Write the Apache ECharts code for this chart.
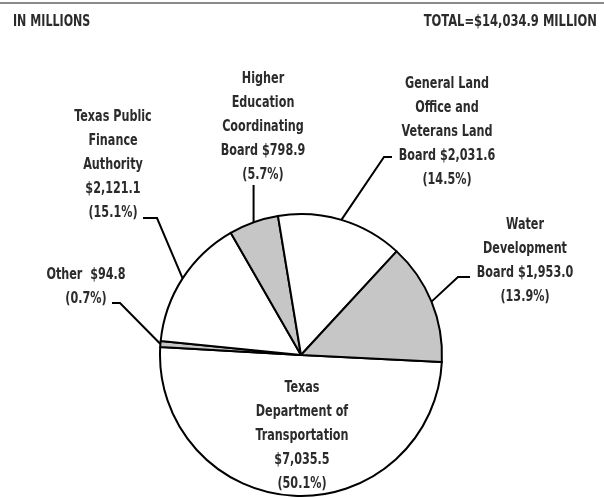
<!DOCTYPE html>
<html>
<head>
<meta charset="utf-8">
<script src="https://cdn.jsdelivr.net/npm/echarts@6/dist/echarts.min.js"></script>
<style>html,body{margin:0;padding:0;background:#fff}#chart{width:604px;height:498px}</style>
</head>
<body>
<div id="chart"></div>
<script>
// ---- data ----
const categories = [
  "Texas\nDepartment of\nTransportation",
  "Other ",
  "Texas Public\nFinance\nAuthority",
  "Higher\nEducation\nCoordinating\nBoard",
  "General Land\nOffice and\nVeterans Land\nBoard",
  "Water\nDevelopment\nBoard"
];
const values = [7035.5, 94.8, 2121.1, 798.9, 2031.6, 1953.0];
const percents = ["50.1%", "0.7%", "15.1%", "5.7%", "14.5%", "13.9%"];
const headerLeft = "IN MILLIONS";
const headerRight = "TOTAL=$14,034.9 MILLION";

// ---- styling / layout (not data) ----
const fills = ["#ffffff", "#c6c6c6", "#ffffff", "#c6c6c6", "#ffffff", "#c6c6c6"];
const labelLayoutCfg = [
  {x: 302, y: 376, line: null},
  {x: 86,  y: 263, elbow: [120, 303], end: 112},
  {x: 113, y: 105, elbow: [157, 218], end: 143},
  {x: 263, y: 67,  vertical: 185},
  {x: 447, y: 72,  elbow: [384, 157], end: 392},
  {x: 525, y: 213, elbow: [458, 277], end: 470}
];
const LABEL_SCALE_X = 0.83;
const FONT = "'DejaVu Sans Condensed', sans-serif";

function fmtMoney(v) {
  return "$" + v.toLocaleString("en-US", {minimumFractionDigits: 1, maximumFractionDigits: 1});
}
function labelText(i) {
  const name = categories[i];
  const money = fmtMoney(values[i]);
  if (i === 1) return name + " " + money + "\n(" + percents[i] + ")";
  if (/Board$/.test(name)) return name + " " + money + "\n(" + percents[i] + ")";
  return name + "\n" + money + "\n(" + percents[i] + ")";
}

// slice labels as condensed text elements (no narrow font cut is installed)
const labelGraphics = values.map((v, i) => ({
  type: 'text',
  x: labelLayoutCfg[i].x,
  y: labelLayoutCfg[i].y,
  scaleX: LABEL_SCALE_X,
  silent: true,
  z: 10,
  style: {
    text: labelText(i),
    fontFamily: FONT, fontSize: 15, fontWeight: 'bold',
    fill: '#2b2b2b', align: 'center', verticalAlign: 'top', lineHeight: 24
  }
}));

const chart = echarts.init(document.getElementById('chart'), null, {renderer: 'canvas'});
chart.setOption({
  animation: false,
  backgroundColor: '#ffffff',
  graphic: [
    {type: 'line', shape: {x1: 0, y1: 3, x2: 604, y2: 3},
     style: {stroke: '#8a8a8a', lineWidth: 2}, silent: true},
    {type: 'text', x: 13, y: 14, scaleX: 0.77, silent: true,
     style: {text: headerLeft, fontFamily: FONT, fontSize: 16, fontWeight: 'bold',
             fill: '#2b2b2b', align: 'left', verticalAlign: 'top'}},
    {type: 'text', x: 597, y: 14, scaleX: 0.80, silent: true,
     style: {text: headerRight, fontFamily: FONT, fontSize: 16, fontWeight: 'bold',
             fill: '#2b2b2b', align: 'right', verticalAlign: 'top'}}
  ].concat(labelGraphics),
  series: [{
    type: 'pie',
    center: [301, 355],
    radius: 141,
    startAngle: -2.8,
    clockwise: true,
    avoidLabelOverlap: false,
    silent: true,
    emphasis: {disabled: true},
    itemStyle: {borderColor: '#000', borderWidth: 2},
    label: {
      show: true,
      position: 'outside',
      fontSize: 10,
      formatter: () => ' '
    },
    labelLine: {show: true, length: 10, length2: 10, lineStyle: {color: '#000', width: 2}},
    labelLayout: function (params) {
      const cfg = labelLayoutCfg[params.dataIndex];
      const res = {x: cfg.x, y: cfg.y, align: 'center', verticalAlign: 'top'};
      const pts = params.labelLinePoints;
      if (pts && pts.length) {
        const edge = pts[0];
        if (cfg.vertical != null) {
          res.labelLinePoints = [edge, [edge[0], cfg.vertical], [edge[0], cfg.vertical]];
        } else if (cfg.elbow) {
          res.labelLinePoints = [edge, cfg.elbow, [cfg.end, cfg.elbow[1]]];
        }
      }
      return res;
    },
    data: values.map((v, i) => ({
      name: categories[i],
      value: v,
      itemStyle: {color: fills[i]},
      labelLine: {show: i !== 0}
    }))
  }]
});
</script>
</body>
</html>
